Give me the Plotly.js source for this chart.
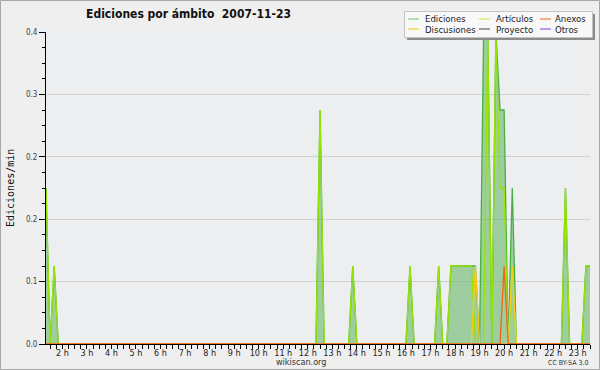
<!DOCTYPE html>
<html><head><meta charset="utf-8">
<script src="https://cdn.plot.ly/plotly-3.0.1.min.js"></script>
<style>html,body{margin:0;padding:0;background:#efefef}#chart{width:600px;height:370px}</style>
</head><body><div id="chart"></div>
<script>
const DAY = "2007-11-23 ";
const edicionesTimes = ["01:20","01:30","01:40","01:50","12:20","12:30","12:40","13:40","13:50","14:00","16:00","16:10","16:20","17:10","17:20","17:30","17:40","17:50","18:00","18:10","18:20","18:30","18:40","18:50","19:00","19:10","19:20","19:30","19:40","19:50","20:00","20:10","20:20","20:30","22:20","22:30","22:40","23:10","23:20","23:30"];
const edicionesValues = [0.2,0,0.1,0,0,0.3,0,0,0.1,0,0,0.1,0,0,0.1,0,0,0.1,0.1,0.1,0.1,0.1,0.1,0.1,0,0.4,0.4,0,0.4,0.3,0.3,0,0.2,0,0,0.2,0,0,0.1,0.1];
const articulosTimes = edicionesTimes;
const articulosValues = [0.2,0,0.1,0,0,0.3,0,0,0.1,0,0,0.1,0,0,0.1,0,0,0.1,0.1,0.1,0.1,0.1,0.1,0,0,0,0.4,0,0.4,0.2,0.2,0,0.1,0,0,0.2,0,0,0.1,0.1];
const discusionesTimes = ["01:20","18:40","18:50","19:00","20:10","20:20","20:30","23:30"];
const discusionesValues = [0,0,0.1,0,0,0.1,0,0];
const anexosTimes = ["01:20","19:50","20:00","20:10","23:30"];
const anexosValues = [0,0,0.1,0,0];
const proyectoTimes = ["01:20","23:30"];
const proyectoValues = [0,0];
const otrosTimes = ["01:20","23:30"];
const otrosValues = [0,0];
const xRange = ["01:20","23:30"];

const seriesNames = ["Ediciones","Artículos","Anexos","Discusiones","Proyecto","Otros"];
const seriesColors = {"Ediciones":"rgb(70,175,70)","Artículos":"rgb(150,228,0)","Anexos":"rgb(245,100,20)","Discusiones":"rgb(250,205,20)","Proyecto":"rgb(85,85,85)","Otros":"rgb(150,80,230)"};
const legendSample = {"Ediciones":"#88cc88","Artículos":"#c4ee55","Anexos":"#f08040","Discusiones":"#f5d040","Proyecto":"#666666","Otros":"#9955ee"};

const toX = a => a.map(t => DAY + t);
function line(name, times, values, extra) {
  return Object.assign({type:"scatter", mode:"lines", name:name, x:toX(times), y:values,
    line:{color:seriesColors[name], width:1.3}, hoverinfo:"skip", showlegend:false}, extra||{});
}
const traces = [
  line("Ediciones", edicionesTimes, edicionesValues, {fill:"tozeroy", fillcolor:"rgba(110,185,110,0.62)"}),
  line("Artículos", articulosTimes, articulosValues),
  line("Proyecto", proyectoTimes, proyectoValues),
  line("Otros", otrosTimes, otrosValues),
  line("Discusiones", discusionesTimes, discusionesValues),
  line("Anexos", anexosTimes, anexosValues)
];

const FONT = "DejaVu Sans Condensed, DejaVu Sans";
const L=46, T=32, W=544, H=312;
const px = x => (x-L)/W;
const py = y => (T+H-y)/H;
const shapes = [
  {type:"rect", xref:"paper", yref:"paper", x0:px(0.5), x1:px(599.5), y0:py(0.5), y1:py(369.5), line:{color:"#a8a8a8", width:1}, fillcolor:"rgba(0,0,0,0)", layer:"below"},
  {type:"rect", xref:"paper", yref:"paper", x0:px(407), x1:px(595), y0:py(14), y1:py(40), line:{width:0}, fillcolor:"#8c8c8c", layer:"above"},
  {type:"rect", xref:"paper", yref:"paper", x0:px(404.5), x1:px(592.5), y0:py(11.5), y1:py(37.5), line:{color:"#c4c4c4", width:1}, fillcolor:"#f8f8f8", layer:"above"}
];
const annotations = [];
const legendLayout = [["Ediciones",408,424,19],["Artículos",479,495,19],["Anexos",540,554,19],
                      ["Discusiones",408,424,29],["Proyecto",479,495,29],["Otros",540,554,29]];
legendLayout.forEach(([n,lx,tx,ly]) => {
  shapes.push({type:"line", xref:"paper", yref:"paper", x0:px(lx), x1:px(lx+11), y0:py(ly), y1:py(ly), line:{color:legendSample[n], width:1.2}, layer:"above"});
  annotations.push({xref:"paper", yref:"paper", x:px(tx), y:py(ly), xanchor:"left", yanchor:"middle", text:n, showarrow:false,
    font:{family:FONT, size:9.5, color:"#222"}, borderpad:0});
});
annotations.push({xref:"paper", yref:"paper", x:px(10), y:py(188), textangle:-90, xanchor:"center", yanchor:"middle",
  text:"Ediciones/min", showarrow:false, font:{family:"DejaVu Sans Mono", size:10, color:"#111"}});
annotations.push({xref:"paper", yref:"paper", x:px(300.5), y:py(361.5), xanchor:"center", yanchor:"middle",
  text:"wikiscan.org", showarrow:false, font:{family:FONT, size:9, color:"#333"}, borderpad:0});
annotations.push({xref:"paper", yref:"paper", x:px(589), y:py(363), xanchor:"right", yanchor:"middle",
  text:"CC BY-SA 3.0", showarrow:false, font:{family:FONT, size:7, color:"#333"}, borderpad:0});

const layout = {
  width:600, height:370,
  margin:{l:L, r:600-L-W, t:T, b:370-T-H, pad:0},
  paper_bgcolor:"#efefef", plot_bgcolor:"#eceef0",
  showlegend:false,
  title:{text:"Ediciones por ámbito\u00a0 2007-11-23", xref:"paper", x:px(188.5), xanchor:"center", yref:"container", y:1-14/370, yanchor:"middle",
    font:{family:FONT, size:12, weight:"bold", color:"#111"}},
  xaxis:{type:"date", range:toX(xRange), dtick:3600000, tick0:DAY+"00:00", tickformat:"%-H h",
    ticks:"outside", ticklen:4, tickcolor:"#000", tickwidth:1, showline:true, linecolor:"#000", linewidth:1,
    showgrid:false, zeroline:false, ticklabelstandoff:-4, tickfont:{family:FONT, size:9, color:"#222"},
    minor:{dtick:900000, ticks:"outside", ticklen:4, tickcolor:"#000", showgrid:false}, fixedrange:true},
  yaxis:{range:[0,0.4], tick0:0, dtick:0.08, tickformat:".1f", ticks:"outside", ticklen:6, tickcolor:"#000",
    showline:true, linecolor:"#000", linewidth:1, showgrid:true, gridcolor:"#cfcfcf", gridwidth:1, zeroline:false,
    tickfont:{family:FONT, size:8, color:"#444"},
    minor:{dtick:0.02, ticks:"outside", ticklen:3, tickcolor:"#000", showgrid:false}, fixedrange:true},
  shapes:shapes, annotations:annotations
};
Plotly.newPlot("chart", traces, layout, {staticPlot:true, displayModeBar:false});
</script></body></html>
